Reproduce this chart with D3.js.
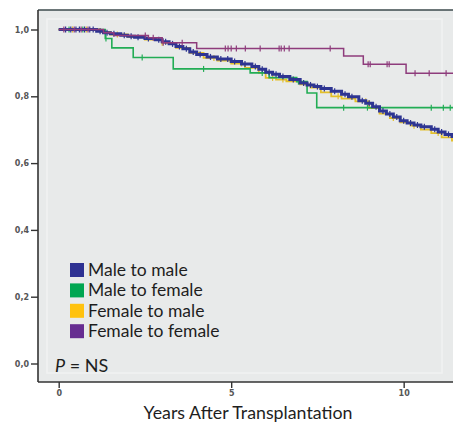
<!DOCTYPE html>
<html>
<head>
<meta charset="utf-8">
<script src="https://cdn.jsdelivr.net/npm/d3@7"></script>
<style>
  body { margin: 0; background: #fff; }
  svg { display: block; }
  .tick-label { font-family: "DejaVu Sans", sans-serif; font-size: 8px; font-weight: bold; fill: #555; }
  .legend text, .title, .pval { font-family: Lato, "Open Sans", sans-serif; fill: #1e1e1e; }
</style>
</head>
<body>
<div id="chart"></div>
<script>
// survival curves (years, proportion surviving)
var maleMaleT = [0, 1.1, 1.3, 1.5, 1.8, 2.0, 2.2, 2.5, 2.8, 3.0, 3.2, 3.4, 3.6, 3.8, 4.0, 4.3, 4.6, 5.0, 5.3, 5.6, 5.8, 6.0, 6.2, 6.4, 6.7, 7.0, 7.2, 7.4, 7.6, 7.9, 8.2, 8.4, 8.7, 8.9, 9.1, 9.3, 9.5, 9.7, 9.9, 10.1, 10.3, 10.5, 10.8, 11.0, 11.2, 11.4, 11.8];
var maleMaleS = [1.0, 0.995, 0.99, 0.987, 0.983, 0.98, 0.977, 0.973, 0.969, 0.963, 0.957, 0.949, 0.942, 0.933, 0.925, 0.918, 0.912, 0.904, 0.897, 0.889, 0.881, 0.872, 0.866, 0.859, 0.85, 0.84, 0.834, 0.829, 0.823, 0.815, 0.806, 0.799, 0.787, 0.779, 0.769, 0.756, 0.747, 0.738, 0.727, 0.72, 0.714, 0.709, 0.701, 0.693, 0.686, 0.68, 0.675];
var maleMaleCens = [0.2, 0.35, 0.5, 0.6, 0.75, 0.9, 1.0, 1.2, 1.4, 1.6, 1.9, 2.1, 2.3, 2.6, 2.9, 3.1, 3.3, 3.5, 3.7, 3.9, 4.1, 4.4, 4.7, 4.9, 5.1, 5.4, 5.7, 5.9, 6.1, 6.3, 6.5, 6.8, 7.1, 7.3, 7.5, 7.7, 8.0, 8.3, 8.5, 8.8, 9.0, 9.2, 9.4, 9.6, 9.8, 10.0, 10.2, 10.4, 10.6, 10.9, 11.1, 11.3];

var maleFemaleT = [0, 1.35, 1.54, 2.16, 3.32, 5.55, 6.1, 6.9, 7.2, 7.48, 11.8];
var maleFemaleS = [1.0, 0.973, 0.945, 0.916, 0.882, 0.87, 0.856, 0.844, 0.81, 0.766, 0.766];
var maleFemaleCens = [0.3, 0.7, 1.37, 2.42, 4.2, 5.9, 6.95, 8.26, 8.95, 10.8, 11.15, 11.35];

var femaleMaleT = [0, 1.2, 1.5, 2.0, 2.5, 3.0, 3.4, 3.8, 4.2, 4.6, 5.0, 5.4, 5.8, 6.0, 6.3, 6.6, 7.0, 7.3, 7.6, 7.9, 8.2, 8.6, 9.0, 9.3, 9.6, 9.9, 10.2, 10.5, 10.8, 11.1, 11.4, 11.8];
var femaleMaleS = [1.0, 0.993, 0.985, 0.978, 0.97, 0.96, 0.945, 0.93, 0.915, 0.907, 0.898, 0.885, 0.87, 0.855, 0.85, 0.845, 0.836, 0.826, 0.812, 0.8, 0.793, 0.785, 0.765, 0.748, 0.735, 0.722, 0.712, 0.7, 0.69, 0.677, 0.667, 0.662];
var femaleMaleCens = [0.4, 0.8, 1.7, 3.0, 4.5, 5.3, 6.2, 6.5, 7.2, 8.1, 8.9, 9.7, 10.3, 11.0];

var femaleFemaleT = [0, 1.3, 1.6, 2.6, 3.0, 4.0, 8.26, 8.83, 10.07, 11.8];
var femaleFemaleS = [1.0, 0.99, 0.982, 0.975, 0.96, 0.943, 0.921, 0.896, 0.869, 0.869];
var femaleFemaleCens = [0.15, 0.45, 0.65, 0.85, 2.51, 2.74, 3.03, 3.58, 4.83, 4.91, 5.0, 5.15, 5.41, 5.84, 6.39, 6.45, 6.54, 6.68, 7.87, 8.97, 9.03, 9.52, 9.58, 10.33, 10.74, 11.23];

var legendLabels = ["Male to male", "Male to female", "Female to male", "Female to female"];
var xTicks = [0, 5, 10];
var yTicks = [0, 0.2, 0.4, 0.6, 0.8, 1.0];
var yTickLabels = ["0,0", "0,2", "0,4", "0,6", "0,8", "1,0"];

var width = 453, height = 427;
var plot = { left: 38, top: 10, right: 460, bottom: 382 };

var svg = d3.select("#chart").append("svg")
    .attr("width", width)
    .attr("height", height);

var x = d3.scaleLinear().domain([-0.6, 11.43]).range([plot.left, 453]);
var y = d3.scaleLinear().domain([0, 1]).range([363.5, 29.5]);

// plot background
svg.append("rect")
    .attr("x", plot.left).attr("y", plot.top)
    .attr("width", plot.right - plot.left).attr("height", plot.bottom - plot.top)
    .attr("fill", "#e8eaea");
svg.append("rect")
    .attr("x", 47).attr("y", 19)
    .attr("width", 395).attr("height", 354)
    .attr("fill", "none").attr("stroke", "#f1f2f2").attr("stroke-width", 1.5);

var series = [
    { t: femaleMaleT, s: femaleMaleS, cens: femaleMaleCens, line: "#e3bf2a", width: 1.8 },
    { t: maleFemaleT, s: maleFemaleS, cens: maleFemaleCens, line: "#22ad55", width: 1.6 },
    { t: maleMaleT, s: maleMaleS, cens: maleMaleCens, line: "#2e3592", width: 3 },
    { t: femaleFemaleT, s: femaleFemaleS, cens: femaleFemaleCens, line: "#8e3c7c", width: 1.5 }
];
var legendColors = ["#2e3192", "#00a651", "#ffc20e", "#662d91"];

var line = d3.line()
    .x(function(d) { return x(d[0]); })
    .y(function(d) { return y(d[1]); })
    .curve(d3.curveStepAfter);

svg.append("clipPath").attr("id", "clip")
    .append("rect").attr("x", plot.left).attr("y", plot.top)
    .attr("width", width - plot.left).attr("height", plot.bottom - plot.top);

var g = svg.append("g").attr("clip-path", "url(#clip)");

function survAt(sr, t) {
    var i = d3.bisectRight(sr.t, t) - 1;
    return sr.s[Math.max(0, i)];
}

series.forEach(function(sr) {
    var pts = sr.t.map(function(t, i) { return [t, sr.s[i]]; });
    g.append("path")
        .datum(pts)
        .attr("d", line)
        .attr("fill", "none")
        .attr("stroke", sr.line)
        .attr("stroke-width", sr.width);
    g.selectAll(null)
        .data(sr.cens)
        .enter().append("line")
        .attr("x1", function(d) { return x(d); })
        .attr("x2", function(d) { return x(d); })
        .attr("y1", function(d) { return y(survAt(sr, d)) - 3; })
        .attr("y2", function(d) { return y(survAt(sr, d)) + 3; })
        .attr("stroke", sr.line)
        .attr("stroke-width", 1.2);
});

// frame
svg.append("line")
    .attr("x1", plot.left).attr("x2", width)
    .attr("y1", plot.top).attr("y2", plot.top)
    .attr("stroke", "#3d4a4c").attr("stroke-width", 1.5);

// axes
var yAxis = d3.axisLeft(y).tickValues(yTicks).tickSize(7).tickSizeOuter(0)
    .tickFormat(function(d, i) { return yTickLabels[i]; });
var gy = svg.append("g")
    .attr("transform", "translate(" + plot.left + ",0)")
    .call(yAxis);
gy.select(".domain").attr("d", "M0," + plot.top + "V" + plot.bottom)
    .attr("stroke", "#333").attr("stroke-width", 1.6);
gy.selectAll(".tick line").attr("stroke", "#333").attr("stroke-width", 1.4);
gy.selectAll(".tick text").attr("class", "tick-label").attr("x", -9).attr("dy", "0.32em");

var xAxis = d3.axisBottom(x).tickValues(xTicks).tickSize(6).tickSizeOuter(0);
var gx = svg.append("g")
    .attr("transform", "translate(0," + plot.bottom + ")")
    .call(xAxis);
gx.select(".domain").attr("d", "M" + plot.left + ",0H" + width)
    .attr("stroke", "#333").attr("stroke-width", 1.6);
gx.selectAll(".tick line").attr("stroke", "#333").attr("stroke-width", 1.4);
gx.selectAll(".tick text").attr("class", "tick-label").attr("y", 8).attr("dy", "0.71em");

svg.append("text")
    .attr("class", "title")
    .attr("x", 248).attr("y", 419)
    .attr("text-anchor", "middle")
    .attr("font-size", 17.8)
    .text("Years After Transplantation");

// legend
var lg = svg.append("g").attr("class", "legend");
legendLabels.forEach(function(lab, i) {
    var cy = 270 + i * 20.4;
    lg.append("rect")
        .attr("x", 70).attr("y", cy - 7)
        .attr("width", 14).attr("height", 14)
        .attr("fill", legendColors[i]);
    lg.append("text")
        .attr("x", 88).attr("y", cy + 6)
        .attr("font-size", 17.5)
        .text(lab);
});

var pv = svg.append("text")
    .attr("class", "pval")
    .attr("x", 55).attr("y", 371.5)
    .attr("font-size", 18);
pv.append("tspan").attr("font-style", "italic").text("P");
pv.append("tspan").text(" = NS");
</script>
</body>
</html>
